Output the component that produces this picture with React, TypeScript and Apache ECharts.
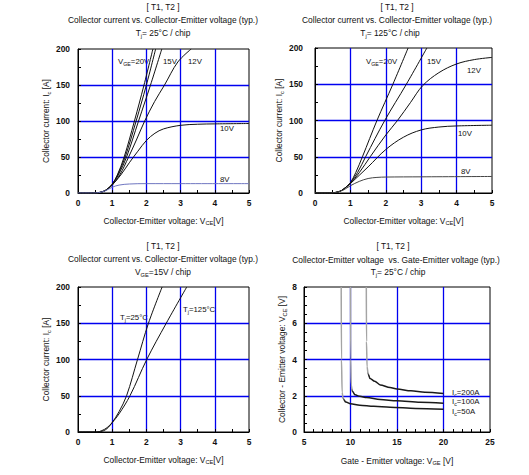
import React, { useEffect, useRef } from "react";
import * as echarts from "echarts";

type Pt = [number, number];

const FONT = '"Liberation Sans", Arial, Helvetica, sans-serif';

// Output characteristics, Tj = 25 °C : [VCE (V), IC (A)]
const out25Vge20: Pt[] = [[0, 0], [0.5, 0], [0.6, 0.5], [0.7, 1.5], [0.8, 3.5], [0.9, 7], [1.0, 12], [1.15, 25], [1.35, 50], [1.65, 100], [1.93, 150], [2.19, 200]];
const out25Vge18: Pt[] = [[0, 0], [0.5, 0], [0.6, 0.5], [0.7, 1.5], [0.8, 3.5], [0.9, 7], [1.0, 12], [1.16, 25], [1.38, 50], [1.7, 100], [2.0, 150], [2.27, 200]];
const out25Vge15: Pt[] = [[0, 0], [0.5, 0], [0.6, 0.5], [0.7, 1.5], [0.8, 3.5], [0.9, 7], [1.0, 12], [1.18, 25], [1.42, 50], [1.77, 100], [2.12, 150], [2.45, 200]];
const out25Vge12: Pt[] = [[0, 0], [0.5, 0], [0.6, 0.5], [0.7, 1.5], [0.8, 3.5], [0.9, 7], [1.0, 11], [1.22, 25], [1.48, 50], [1.72, 75], [1.95, 100], [2.24, 127], [2.53, 150], [2.92, 182], [3.31, 200]];
const out25Vge10: Pt[] = [[0, 0], [0.5, 0], [0.6, 0.5], [0.7, 1.5], [0.8, 3.5], [0.9, 7], [1.0, 11], [1.25, 25], [1.5, 42], [1.75, 58], [2.0, 73], [2.25, 83], [2.5, 89], [3.0, 94], [3.5, 95.5], [4.0, 96], [5.0, 96.5]];
const out25Vge8: Pt[] = [[0, 0], [0.5, 0], [0.6, 0.5], [0.8, 3], [1.0, 8], [1.2, 11], [1.5, 12.5], [2.0, 13], [3.0, 13], [5.0, 13]];

// Output characteristics, Tj = 125 °C
const out125Vge20: Pt[] = [[0, 0], [0.45, 0], [0.55, 0.5], [0.65, 1.5], [0.75, 3.5], [0.85, 7], [0.92, 10], [1.0, 14], [1.15, 28], [1.34, 50], [1.75, 100], [2.2, 150], [2.63, 200]];
const out125Vge15: Pt[] = [[0, 0], [0.45, 0], [0.55, 0.5], [0.65, 1.5], [0.75, 3.5], [0.85, 7], [0.92, 10], [1.0, 14], [1.2, 28], [1.43, 50], [1.97, 100], [2.58, 150], [3.16, 200]];
const out125Vge12: Pt[] = [[0, 0], [0.45, 0], [0.55, 0.5], [0.65, 1.5], [0.75, 3.5], [0.85, 7], [0.92, 10], [1.0, 13], [1.25, 28], [1.56, 50], [2.0, 80], [2.33, 100], [2.7, 125], [3.04, 148], [3.5, 166], [4.0, 178], [4.5, 184], [5.0, 187]];
const out125Vge10: Pt[] = [[0, 0], [0.45, 0], [0.55, 0.5], [0.65, 1.5], [0.75, 3.5], [0.85, 7], [0.92, 10], [1.0, 13], [1.5, 36], [2.0, 60], [2.5, 77], [3.0, 87], [3.5, 91], [4.0, 92.5], [5.0, 93.5]];
const out125Vge8: Pt[] = [[0, 0], [0.45, 0], [0.55, 0.5], [0.65, 1.5], [0.8, 4], [1.0, 10], [1.25, 16], [1.5, 20], [1.75, 21.5], [2.0, 22], [3.0, 22.3], [5.0, 22.8]];

// VGE = 15 V, both junction temperatures
const vge15Tj25: Pt[] = [[0, 0], [0.6, 0], [0.7, 1], [0.8, 3], [0.9, 7], [1.0, 13], [1.2, 28], [1.42, 50], [1.74, 100], [2.06, 150], [2.46, 200]];
const vge15Tj125: Pt[] = [[0, 0], [0.55, 0], [0.7, 2], [0.85, 6], [1.0, 13], [1.2, 25], [1.52, 50], [2.01, 100], [2.58, 150], [3.18, 200]];

// VCE vs VGE at Tj = 25 °C : [VGE (V), VCE (V)]
const satIc200: Pt[] = [[11.7, 8], [11.72, 5], [11.78, 3.6], [11.9, 3.2], [12.1, 2.95], [12.6, 2.8], [13.2, 2.6], [14.25, 2.45], [15, 2.37], [16.5, 2.27], [18, 2.2], [20, 2.13]];
const satIc100: Pt[] = [[10.0, 8], [10.02, 4], [10.08, 2.6], [10.2, 2.25], [10.5, 2.05], [11, 1.97], [11.74, 1.9], [13.2, 1.79], [15, 1.72], [17.5, 1.64], [20, 1.58]];
const satIc50: Pt[] = [[9.0, 8], [9.03, 4], [9.1, 2.2], [9.2, 1.85], [9.5, 1.65], [10, 1.56], [11, 1.48], [12.5, 1.42], [14.25, 1.37], [17, 1.3], [20, 1.25]];

const titleHead = "[ T1, T2 ]";
const titleOutput = "Collector current vs. Collector-Emitter voltage (typ.)";
const titleSat = "Collector-Emitter voltage  vs. Gate-Emitter voltage (typ.)";

const BLUE = "#0000f0";
const INK = "#111";

const richBase = (size: number) => ({
  n: { fontSize: size, fontFamily: FONT, fill: INK, lineHeight: size + 3 },
  s: { fontSize: size * 0.68, fontFamily: FONT, fill: INK, verticalAlign: "bottom", lineHeight: size + 3 },
});

const richAxis = (size: number) => ({
  n: { fontSize: size, fontFamily: FONT, color: INK, lineHeight: size + 3 },
  s: { fontSize: size * 0.68, fontFamily: FONT, color: INK, verticalAlign: "bottom", lineHeight: size + 3 },
});

function txt(x: number, y: number, text: string, align = "left", size = 8.4) {
  return {
    type: "text",
    x,
    y,
    silent: true,
    style: { text, rich: richBase(size), align, verticalAlign: "middle", fill: INK },
  };
}

function curve(data: Pt[], idx: number, color: any = INK, width = 1, monotone = false) {
  return {
    type: "line",
    xAxisIndex: idx,
    yAxisIndex: idx,
    data,
    symbol: "none",
    showSymbol: false,
    smooth: monotone ? 0.3 : 0.35,
    smoothMonotone: monotone ? "x" : undefined,
    silent: true,
    clip: true,
    lineStyle: { color, width },
  };
}

function grayToInk(split: number) {
  return new echarts.graphic.LinearGradient(0, 0, 0, 1, [
    { offset: 0, color: "#a4a4a4" },
    { offset: split, color: "#a4a4a4" },
    { offset: Math.min(split + 0.03, 1), color: "#1a1a1a" },
    { offset: 1, color: "#1a1a1a" },
  ]);
}

function valueAxis(
  idx: number,
  min: number,
  max: number,
  interval: number,
  minor: number,
  name: string,
  nameGap: number,
  labelMargin: number
) {
  return {
    type: "value",
    gridIndex: idx,
    min,
    max,
    interval,
    name,
    nameLocation: "middle",
    nameGap,
    nameTextStyle: { rich: richAxis(8.4) },
    axisLine: { show: true, lineStyle: { color: "#000", width: 1 } },
    axisTick: { show: true, inside: true, length: 3, lineStyle: { color: "#000", width: 1 } },
    minorTick: { show: true, splitNumber: minor, length: 3, lineStyle: { color: "#000", width: 1 } },
    splitLine: { show: true, showMinLine: false, showMaxLine: false, lineStyle: { color: BLUE, width: 1.3 } },
    minorSplitLine: { show: false },
    axisLabel: { color: INK, fontSize: 8.4, fontWeight: "bold", fontFamily: FONT, margin: labelMargin },
  };
}

const vceName = "{n|Collector-Emitter voltage: V}{s|CE}{n|[V]}";
const icName = "{n|Collector current: I}{s|c}{n| [A]}";

const grids = [
  { left: 78, top: 49, width: 171, height: 144 },
  { left: 315, top: 48, width: 177, height: 145 },
  { left: 78, top: 287, width: 171, height: 145 },
  { left: 304, top: 287, width: 186, height: 145 },
].map((g) => ({ ...g, show: true, borderColor: "#000", borderWidth: 1, backgroundColor: "transparent" }));

const option: any = {
  animation: false,
  backgroundColor: "#fff",
  grid: grids,
  xAxis: [
    valueAxis(0, 0, 5, 1, 2, vceName, 22, 6),
    valueAxis(1, 0, 5, 1, 2, vceName, 22, 6),
    valueAxis(2, 0, 5, 1, 2, vceName, 22, 6),
    valueAxis(3, 5, 25, 5, 5, "{n|Gate - Emitter voltage: V}{s|GE}{n| [V]}", 23, 6),
  ],
  yAxis: [
    valueAxis(0, 0, 200, 50, 2, icName, 26, 8),
    valueAxis(1, 0, 200, 50, 2, icName, 27, 12),
    valueAxis(2, 0, 200, 50, 2, icName, 26, 8),
    valueAxis(3, 0, 8, 2, 4, "{n|Collector - Emitter voltage: V}{s|CE}{n| [V]}", 16, 7),
  ],
  series: [
    curve(out25Vge20, 0),
    curve(out25Vge18, 0),
    curve(out25Vge15, 0),
    curve(out25Vge12, 0),
    curve(out25Vge10, 0),
    curve(out25Vge8, 0, "#6f76c0"),
    curve(out125Vge20, 1),
    curve(out125Vge15, 1),
    curve(out125Vge12, 1),
    curve(out125Vge10, 1),
    curve(out125Vge8, 1, "#444"),
    curve(vge15Tj25, 2),
    curve(vge15Tj125, 2),
    curve(satIc200, 3, grayToInk(0.8), 1.5, true),
    curve(satIc100, 3, grayToInk(0.87), 1.5, true),
    curve(satIc50, 3, grayToInk(0.9), 1.5, true),
  ],
  graphic: [
    // chart titles
    txt(163, 7, `{n|${titleHead}}`, "center"),
    txt(163, 20, `{n|${titleOutput}}`, "center"),
    txt(163, 33, "{n|T}{s|j}{n|= 25°C / chip}", "center"),
    txt(397, 7, `{n|${titleHead}}`, "center"),
    txt(397, 20, `{n|${titleOutput}}`, "center"),
    txt(390, 33, "{n|T}{s|j}{n|= 125°C / chip}", "center"),
    txt(163, 246, `{n|${titleHead}}`, "center"),
    txt(163, 259, `{n|${titleOutput}}`, "center"),
    txt(163, 272, "{n|V}{s|GE}{n|=15V / chip}", "center"),
    txt(393, 246, `{n|${titleHead}}`, "center"),
    txt(396, 260, `{n|${titleSat}}`, "center"),
    txt(398, 272, "{n|T}{s|j}{n|= 25°C / chip}", "center"),
    // curve labels
    txt(118, 61, "{n|V}{s|GE}{n|=20V}", "left", 7.8),
    txt(163, 61, "{n|15V}", "left", 7.8),
    txt(188, 61, "{n|12V}", "left", 7.8),
    txt(220, 128, "{n|10V}", "left", 7.8),
    txt(220, 179, "{n|8V}", "left", 7.8),
    txt(366, 61, "{n|V}{s|GE}{n|=20V}", "left", 7.8),
    txt(427, 61, "{n|15V}", "left", 7.8),
    txt(467, 70, "{n|12V}", "left", 7.8),
    txt(458, 133, "{n|10V}", "left", 7.8),
    txt(461, 171, "{n|8V}", "left", 7.8),
    txt(120, 317, "{n|T}{s|j}{n|=25°C}", "left", 7.8),
    txt(183, 309, "{n|T}{s|j}{n|=125°C}", "left", 7.8),
    txt(452, 392, "{n|I}{s|c}{n|=200A}", "left", 7.8),
    txt(452, 401, "{n|I}{s|c}{n|=100A}", "left", 7.8),
    txt(452, 411, "{n|I}{s|c}{n|=50A}", "left", 7.8),
  ],
};

export default function App() {
  const ref = useRef<HTMLDivElement>(null);
  useEffect(() => {
    if (!ref.current) return;
    const chart = echarts.init(ref.current, null, { renderer: "svg" });
    chart.setOption(option);
    return () => chart.dispose();
  }, []);
  return (
    <div
      ref={ref}
      style={{ position: "absolute", left: 0, top: 0, width: 529, height: 475, background: "#fff" }}
    />
  );
}
